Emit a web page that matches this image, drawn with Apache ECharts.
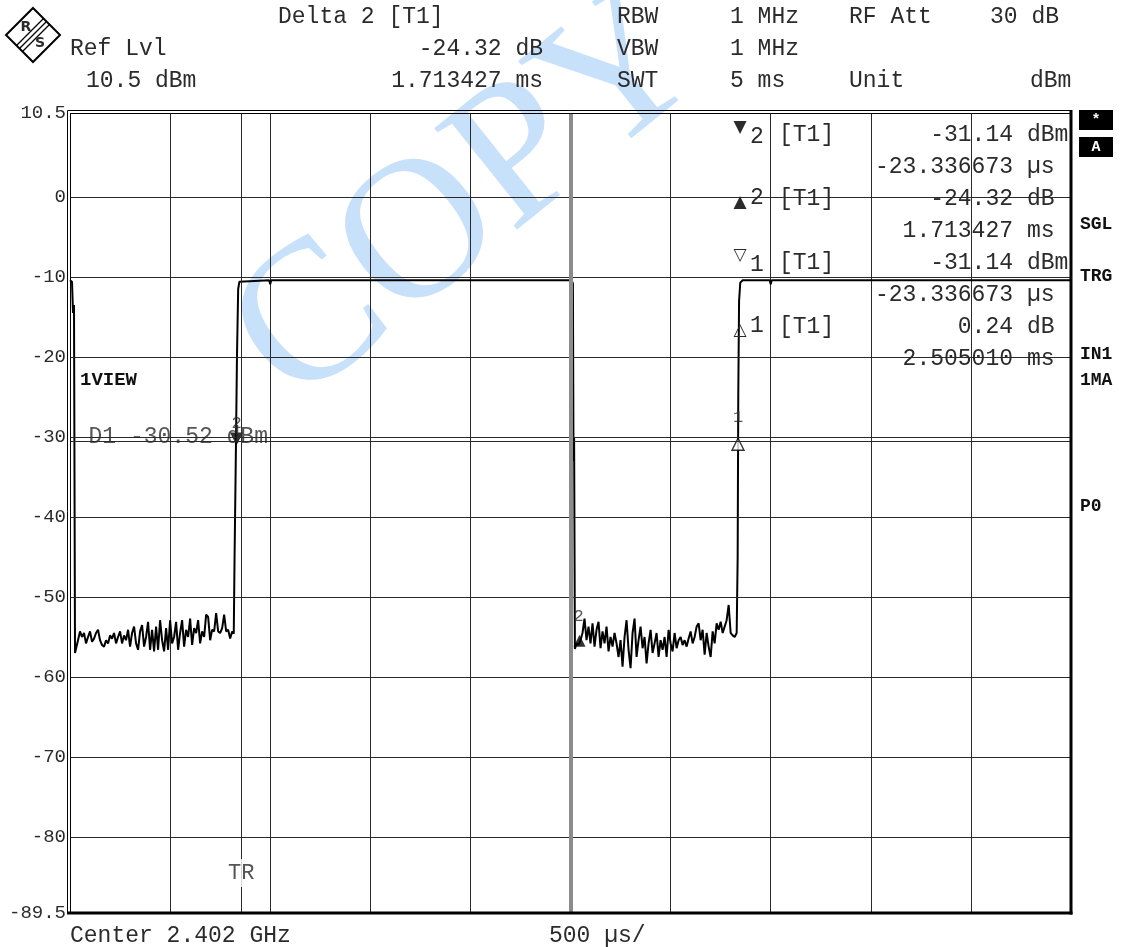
<!DOCTYPE html>
<html><head><meta charset="utf-8">
<script src="https://cdn.jsdelivr.net/npm/echarts@6/dist/echarts.min.js"></script>
<style>html,body{margin:0;padding:0;background:#fff}#c{width:1125px;height:947px}</style>
</head><body><div id="c"></div>
<script>
// ---------- data ----------
const yTickLabels = [10.5, 0, -10, -20, -30, -40, -50, -60, -70, -80, -89.5];
const yGridDbm = [0, -10, -20, -30, -40, -50, -60, -70, -80];
const xMinUs = 0, xMaxUs = 5000, xDivUs = 500;
const yMinDbm = -89.5, yMaxDbm = 10.5;
const triggerUs = 855;
const centerUs = 2500;
const displayLineD1 = -30.52;
const trLabelLevel = -84.5;
const d1LabelTimeUs = 90;

const traceTimeUs = [
  0, 10, 15, 20, 25,
  40, 50, 60, 70, 80, 90, 100, 110, 120, 130, 140, 150, 160, 170, 180, 190, 200,
  210, 220, 230, 240, 250, 260, 270, 280, 290, 300, 310, 320, 330, 340, 350, 360,
  370, 380, 390, 400, 410, 420, 430, 440, 450, 460, 470, 480, 490, 500, 510, 520,
  530, 540, 550, 560, 570, 580, 590, 600, 610, 620, 630, 640, 650, 660, 670, 680,
  690, 700, 710, 720, 730, 740, 750, 760, 770, 780, 790, 800, 810,
  818, 822, 828, 834, 840, 846, 855,
  995, 1000, 1005,
  2505, 2512, 2515, 2518, 2522,
  2530, 2540, 2550, 2560, 2570, 2580, 2590, 2600, 2610, 2620, 2630, 2640, 2650,
  2660, 2670, 2680, 2690, 2700, 2710, 2720, 2730, 2740, 2750, 2760, 2770, 2780,
  2790, 2800, 2810, 2820, 2830, 2840, 2850, 2860, 2870, 2880, 2890, 2900, 2910,
  2920, 2930, 2940, 2950, 2960, 2970, 2980, 2990, 3000, 3010, 3020, 3030, 3040,
  3050, 3060, 3070, 3080, 3090, 3100, 3110, 3120, 3130, 3140, 3150, 3160, 3170,
  3180, 3190, 3200, 3210, 3220, 3230, 3240, 3250, 3260, 3270, 3280, 3290, 3300,
  3310, 3320, 3330,
  3335, 3338, 3342, 3348, 3360,
  3495, 3500, 3505,
  5000
];
const traceLevelDbm = [
  -10.4, -10.6, -14.5, -13.5, -57.0,
  -55.4, -54.3, -55.0, -54.5, -55.8, -55.0, -54.3, -55.6, -55.2, -54.5, -54.1, -55.4, -56.0, -56.2, -55.4, -55.8, -54.8,
  -55.2, -54.5, -55.8, -55.0, -54.3, -55.8, -54.8, -55.4, -54.1, -56.2, -54.5, -53.7, -55.8, -56.6, -54.3, -53.5,
  -56.2, -55.0, -53.1, -56.6, -54.1, -56.8, -53.7, -56.6, -52.9, -55.4, -56.8, -53.9, -56.6, -52.9, -55.8, -55.0,
  -53.1, -56.6, -54.5, -52.9, -56.2, -54.1, -55.0, -52.7, -56.0, -53.9, -54.5, -52.9, -55.8, -54.3, -55.0, -52.2,
  -52.5, -55.4, -54.1, -54.3, -52.0, -54.3, -54.5, -53.9, -52.2, -54.3, -54.1, -55.2, -54.3,
  -54.6, -45.0, -33.0, -20.0, -11.5, -10.6, -10.4,
  -10.4, -10.9, -10.4,
  -10.4, -10.8, -33.0, -30.0, -56.5,
  -55.8, -56.0, -55.4, -54.5, -52.7, -55.4, -53.7, -55.8, -53.3, -56.2, -54.1, -53.1, -56.4,
  -54.3, -55.8, -53.7, -56.8, -55.0, -56.2, -54.5, -55.8, -57.5, -55.4, -58.7, -55.0, -52.9,
  -56.6, -58.9, -54.5, -52.7, -57.5, -55.4, -53.7, -56.4, -55.0, -58.3, -55.8, -54.1, -57.0,
  -55.8, -54.5, -57.5, -55.4, -56.6, -55.0, -57.5, -54.1, -55.8, -56.8, -54.5, -56.4, -55.4,
  -55.0, -56.0, -55.4, -56.2, -55.2, -54.3, -55.8, -55.0, -53.7, -53.3, -55.4, -54.1, -57.2,
  -54.5, -56.2, -57.5, -54.3, -55.8, -53.3, -54.1, -53.1, -54.5, -53.7, -52.9, -51.0, -54.5,
  -54.8, -55.0, -54.5,
  -45.0, -25.0, -13.0, -10.7, -10.4,
  -10.4, -10.9, -10.4,
  -10.4
];

const markerTimesUs = [831.7, 2545.1, 3336.7];
const markerLevelsDbm = [-31.14, -55.46, -30.90];
const markerNumbers = ['2', '2', '1'];

const headerTexts = [
  ['Delta 2 [T1]', 278, 17, 'left'], ['RBW', 617, 17, 'left'], ['1 MHz', 730, 17, 'left'],
  ['RF Att', 849, 17, 'left'], ['30 dB', 990, 17, 'left'],
  ['Ref Lvl', 70, 49, 'left'], ['-24.32 dB', 543, 49, 'right'], ['VBW', 617, 49, 'left'], ['1 MHz', 730, 49, 'left'],
  ['10.5 dBm', 86, 81, 'left'], ['1.713427 ms', 543, 81, 'right'], ['SWT', 617, 81, 'left'],
  ['5 ms', 730, 81, 'left'], ['Unit', 849, 81, 'left'], ['dBm', 1030, 81, 'left']
];
const panelSymbols = ['▼', '', '▲', '', '▽', '', '△', ''];
const panelNumbers = ['2', '', '2', '', '1', '', '1', ''];
const panelTraces = ['[T1]', '', '[T1]', '', '[T1]', '', '[T1]', ''];
const panelValues = ['-31.14', '-23.336673', '-24.32', '1.713427', '-31.14', '-23.336673', '0.24', '2.505010'];
const panelUnits = ['dBm', 'µs', 'dB', 'ms', 'dBm', 'µs', 'dB', 'ms'];
const sideBoxes = ['*', 'A'];
const sideLabels = [['SGL', 224], ['TRG', 276], ['IN1', 354], ['1MA', 380], ['P0', 506]];

// ---------- layout ----------
const G = {left: 70, top: 113, width: 1001, height: 800};
const MONO = '"Liberation Mono", "DejaVu Sans Mono", monospace';
const INK = '#2b2b2b';

function txt(x, y, text, o) {
  o = o || {};
  const align = o.align || 'left';
  return {
    type: 'text', x: x, y: y, z: o.z == null ? 10 : o.z, silent: true,
    style: {
      text: text, fill: o.fill || INK,
      font: (o.weight || 'normal') + ' ' + (o.size || 23) + 'px ' + (o.family || MONO),
      align: align, textAlign: align, verticalAlign: 'middle', textVerticalAlign: 'middle'
    }
  };
}
function line(x1, y1, x2, y2, w, c) {
  return {type: 'line', silent: true, z: 20, shape: {x1: x1, y1: y1, x2: x2, y2: y2},
          style: {stroke: c || '#000', lineWidth: w}};
}

const graphics = [];
// watermark
graphics.push({type: 'text', x: 470, y: 200, rotation: 0.675, z: -10, silent: true,
  style: {text: 'COPY', font: 'normal 200px "Liberation Serif", serif', fill: '#c8e1fa',
          align: 'center', textAlign: 'center', verticalAlign: 'middle', textVerticalAlign: 'middle'}});
// logo
const LC = [33, 35], LR = 27;
graphics.push({type: 'polygon', z: 10, silent: true,
  shape: {points: [[LC[0], LC[1] - LR], [LC[0] + LR, LC[1]], [LC[0], LC[1] + LR], [LC[0] - LR, LC[1]]]},
  style: {fill: '#fff', stroke: '#000', lineWidth: 2}});
[-3, 0, 3].forEach(function (k) {
  graphics.push({type: 'line', z: 11, silent: true,
    shape: {x1: LC[0] - 13.5 + k, y1: LC[1] + 13.5 + k, x2: LC[0] + 13.5 + k, y2: LC[1] - 13.5 + k},
    style: {stroke: '#000', lineWidth: 1.3}});
});
graphics.push(txt(LC[0] - 7, LC[1] - 8, 'R', {size: 14, weight: 'bold', align: 'center', family: '"DejaVu Sans", sans-serif', z: 12}));
graphics.push(txt(LC[0] + 7, LC[1] + 8, 'S', {size: 14, weight: 'bold', align: 'center', family: '"DejaVu Sans", sans-serif', z: 12}));
// header
headerTexts.forEach(function (h) { graphics.push(txt(h[1], h[2], h[0], {align: h[3]})); });
// marker panel
const rowY0 = 135, rowDy = 32;
panelValues.forEach(function (v, i) {
  const y = rowY0 + i * rowDy;
  if (panelSymbols[i]) {
    const up = panelSymbols[i] === '▲' || panelSymbols[i] === '△';
    graphics.push(txt(740, y + (up ? 4 : -7), panelSymbols[i], {size: 17, align: 'center', family: '"DejaVu Sans", sans-serif'}));
    graphics.push(txt(750, y + (up ? -1 : 2), panelNumbers[i], {}));
    graphics.push(txt(779, y, panelTraces[i], {}));
  }
  graphics.push(txt(1013, y, v, {align: 'right'}));
  graphics.push(txt(1027, y, panelUnits[i], {}));
});
// side panel
sideBoxes.forEach(function (s, i) {
  const y = 110 + i * 27;
  graphics.push({type: 'rect', z: 10, silent: true, shape: {x: 1079, y: y, width: 34, height: 20}, style: {fill: '#000'}});
  graphics.push(txt(1096, y + 10, s, {fill: '#fff', size: 15, weight: 'bold', align: 'center'}));
});
sideLabels.forEach(function (s) { graphics.push(txt(1080, s[1], s[0], {size: 18, weight: 'bold', fill: '#111'})); });
// in-plot label & footer
graphics.push(txt(80, 380, '1VIEW', {size: 19, weight: 'bold', fill: '#111'}));
graphics.push(txt(70, 936, 'Center 2.402 GHz', {}));
graphics.push(txt(549, 936, '500 µs/', {}));
// frame
const L = G.left, T = G.top, R = G.left + G.width, B = G.top + G.height;
graphics.push(line(L - 2.5, T - 2.5, R, T - 2.5, 1));
graphics.push(line(L - 2.5, T - 2.5, L - 2.5, B, 1));
graphics.push(line(L + 0.5, T + 0.5, R, T + 0.5, 1));
graphics.push(line(L + 0.5, T + 0.5, L + 0.5, B, 1));
graphics.push(line(L - 3, B, R + 1.5, B, 3));
graphics.push(line(R, T - 3, R, B + 1.5, 3));

// ---------- series ----------
const traceData = traceTimeUs.map(function (t, i) { return [t, traceLevelDbm[i]]; });

const gridLines = yGridDbm.map(function (v) { return {yAxis: v}; });
gridLines.push({yAxis: displayLineD1});
gridLines.push({xAxis: triggerUs});
gridLines.push({xAxis: centerUs, lineStyle: {color: '#8c8c8c', width: 4}});

const markerStyles = [
  {symbol: 'triangle', symbolRotate: 180, symbolOffset: [0, -7], symbolSize: 13,
   itemStyle: {color: '#000'}, label: {distance: 1}},
  {symbol: 'triangle', symbolRotate: 0, symbolOffset: [0, 0], symbolSize: 12,
   itemStyle: {color: '#000'}, label: {distance: 10, offset: [-1, 0]}},
  {symbol: 'triangle', symbolRotate: 0, symbolOffset: [0, 0], symbolSize: 12,
   itemStyle: {color: '#fff', borderColor: '#000', borderWidth: 1.4}, label: {distance: 12}}
];
const markerData = markerTimesUs.map(function (t, i) {
  const s = markerStyles[i];
  return {value: [t, markerLevelsDbm[i]], symbol: s.symbol, symbolRotate: s.symbolRotate,
          symbolOffset: s.symbolOffset, symbolSize: s.symbolSize, itemStyle: s.itemStyle,
          label: Object.assign({show: true, position: 'top', formatter: markerNumbers[i]}, s.label)};
});

const option = {
  animation: false,
  backgroundColor: '#fff',
  grid: {left: G.left, top: G.top, width: G.width, height: G.height, show: false},
  xAxis: {type: 'value', min: xMinUs, max: xMaxUs, interval: xDivUs,
    axisLine: {show: false}, axisTick: {show: false}, axisLabel: {show: false},
    splitLine: {show: true, lineStyle: {color: '#2a2a2a', width: 1}}},
  yAxis: {type: 'value', min: yMinDbm, max: yMaxDbm,
    axisLine: {show: false}, axisTick: {show: false}, splitLine: {show: false},
    axisLabel: {customValues: yTickLabels, formatter: function (v) { return String(v); },
      color: '#2b2b2b', fontFamily: MONO, fontSize: 19, margin: 4}},
  graphic: graphics,
  series: [
    {name: 'grid', type: 'line', data: [], z: 1, silent: true,
     markLine: {silent: true, symbol: ['none', 'none'], label: {show: false}, animation: false,
       lineStyle: {color: '#2a2a2a', width: 1, type: 'solid'}, data: gridLines}},
    {name: 'trace', type: 'line', data: traceData, z: 3, showSymbol: false, silent: true,
     lineStyle: {color: '#000', width: 2}, clip: true},
    {name: 'markers', type: 'scatter', data: markerData, z: 4, silent: true,
     label: {color: INK, fontFamily: MONO, fontSize: 17}},
    {name: 'labels', type: 'scatter', z: 5, silent: true, symbolSize: 1,
     itemStyle: {color: 'rgba(0,0,0,0)'},
     data: [
       {value: [triggerUs, trLabelLevel],
        label: {show: true, position: 'inside', formatter: 'TR', color: INK, fontFamily: MONO,
                fontSize: 22, backgroundColor: '#fff', padding: [3, 0]}},
       {value: [d1LabelTimeUs, displayLineD1],
        label: {show: true, position: 'right', distance: 0, offset: [0, -4], formatter: 'D1 -30.52 dBm',
                color: INK, fontFamily: MONO, fontSize: 23}}
     ]}
  ]
};
const chart = echarts.init(document.getElementById('c'), null, {renderer: 'canvas'});
chart.setOption(option);
</script></body></html>
